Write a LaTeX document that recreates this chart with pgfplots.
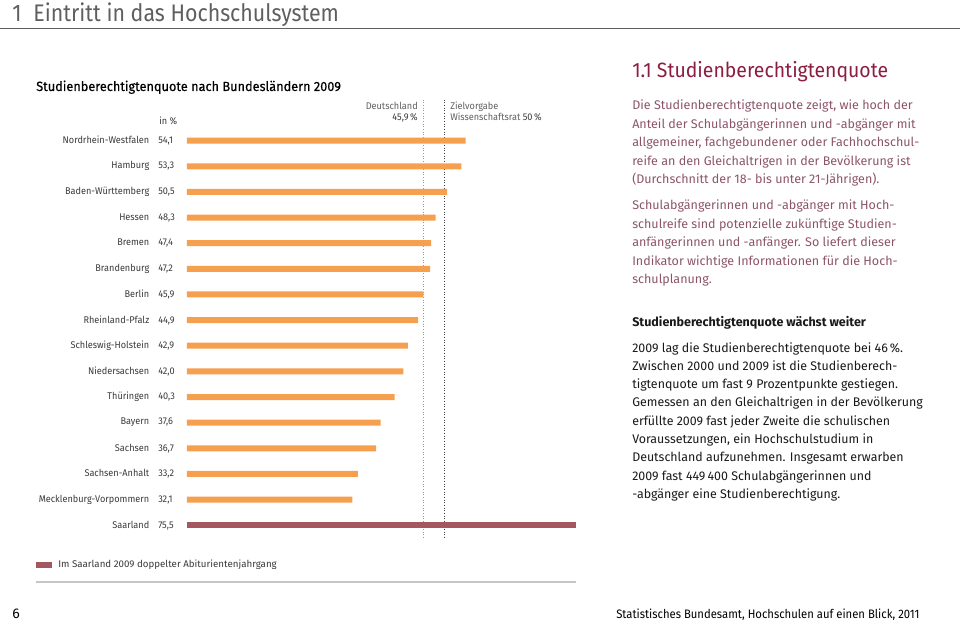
\documentclass[border=0pt]{standalone}
\usepackage{fontspec}
\setmainfont{Fira Sans}
\usepackage{pgfplots}
\pgfplotsset{compat=1.18}
\usepackage{pgfplotstable}
\definecolor{barorange}{HTML}{F6A04F}
\definecolor{barsaar}{HTML}{A5575F}
\definecolor{titlered}{HTML}{8C1D40}
\definecolor{mauve}{HTML}{8C546A}
\definecolor{hdrgray}{HTML}{5F5F5F}
\definecolor{labgray}{HTML}{3A3A3A}
\pgfplotstableread{
pos val
1 54.1
2 53.3
3 50.5
4 48.3
5 47.4
6 47.2
7 45.9
8 44.9
9 42.9
10 42.0
11 40.3
12 37.6
13 36.7
14 33.2
15 32.1
}\laender
\pgfplotstableread{
pos val
16 75.5
}\saar
\newcommand{\lab}{\fontsize{7.3}{9}\selectfont\addfontfeatures{FakeStretch=0.94}}
\newcommand{\body}{\fontsize{9.4}{13.8}\selectfont}
\begin{document}
\begin{tikzpicture}[x=0.75pt,y=-0.75pt]
\useasboundingbox (0,0) rectangle (960,620);
% header
\node[anchor=base west, font=\fontsize{18}{20}\selectfont\addfontfeatures{FakeStretch=0.89}, text=hdrgray, inner sep=0pt] at (12,22) {1\hspace{0.5em}Eintritt in das Hochschulsystem};
\draw[hdrgray, line width=1.1pt] (0,28.5) -- (960,28.5);
% chart title
\node[anchor=base west, font=\fontsize{10}{12}\selectfont\addfontfeatures{FakeStretch=0.955,FakeBold=0.4}, text=black, inner sep=0pt] at (36,91) {Studienberechtigtenquote nach Bundesländern 2009};
\node[anchor=base west, font=\lab, text=labgray, inner sep=0pt] at (159,125) {in \%};
% reference labels
\node[anchor=base east, font=\lab, text=hdrgray, inner sep=0pt] at (418,110) {Deutschland};
\node[anchor=base east, font=\lab, text=labgray, inner sep=0pt] at (418,121) {45,9\,\%};
\node[anchor=base west, font=\lab, text=hdrgray, inner sep=0pt] at (450,110) {Zielvorgabe};
\node[anchor=base west, font=\lab, text=hdrgray, inner sep=0pt] at (450,121) {Wissenschaftsrat \textcolor{labgray}{50\,\%}};
\begin{axis}[
  at={(140.25pt,-403.5pt)}, anchor=south west,
  scale only axis, width=309pt, height=328.8pt,
  xmin=0, xmax=80, ymin=-0.6, ymax=16.5, y dir=reverse,
  axis line style={draw=none}, xtick=\empty,
  ytick={1,...,16}, major tick length=0pt,
  yticklabels={
    {\llap{Nordrhein-Westfalen\hspace{6.75pt}}54,1},
    {\llap{Hamburg\hspace{6.75pt}}53,3},
    {\llap{Baden-Württemberg\hspace{6.75pt}}50,5},
    {\llap{Hessen\hspace{6.75pt}}48,3},
    {\llap{Bremen\hspace{6.75pt}}47,4},
    {\llap{Brandenburg\hspace{6.75pt}}47,2},
    {\llap{Berlin\hspace{6.75pt}}45,9},
    {\llap{Rheinland-Pfalz\hspace{6.75pt}}44,9},
    {\llap{Schleswig-Holstein\hspace{6.75pt}}42,9},
    {\llap{Niedersachsen\hspace{6.75pt}}42,0},
    {\llap{Thüringen\hspace{6.75pt}}40,3},
    {\llap{Bayern\hspace{6.75pt}}37,6},
    {\llap{Sachsen\hspace{6.75pt}}36,7},
    {\llap{Sachsen-Anhalt\hspace{6.75pt}}33,2},
    {\llap{Mecklenburg-Vorpommern\hspace{6.75pt}}32,1},
    {\llap{Saarland\hspace{6.75pt}}75,5}},
  yticklabel style={anchor=west, inner sep=0pt, xshift=-21.75pt, font=\lab, text=labgray},
  clip=false,
  legend style={at={(-0.3665,-0.0616)}, anchor=west, draw=none, fill=none, inner sep=0pt,
    font=\fontsize{7.3}{9}\selectfont, text=labgray,
    nodes={inner sep=0pt}, column sep=4.5pt},
]
\addplot[forget plot, color=gray!80, line width=1.1pt, dash pattern=on 0.8pt off 1.2pt] coordinates {(45.9,-0.6) (45.9,16.5)};
\addplot[forget plot, color=black!75, line width=1.1pt, dash pattern=on 0.8pt off 1.2pt] coordinates {(50,-0.6) (50,16.5)};
\addplot[forget plot, xbar, bar width=4.5pt, bar shift=0pt, draw=none, fill=barorange] table[x=val, y=pos] {\laender};
\addplot[xbar, bar width=4.5pt, bar shift=0pt, draw=none, fill=barsaar,
  legend image code/.code={\fill[barsaar] (0pt,-2.6pt) rectangle (12pt,2.6pt);}] table[x=val, y=pos] {\saar};
\addlegendentry{Im Saarland 2009 doppelter Abiturientenjahrgang}
\end{axis}
\draw[gray!45, line width=0.8pt] (36,582) -- (576,582);
% right column
\node[anchor=base west, font=\fontsize{15.5}{18}\selectfont\addfontfeatures{FakeStretch=0.94}, text=titlered, inner sep=0pt] at (632,78) {1.1 Studienberechtigtenquote};
\foreach \yy/\tt in {
 110/{Die Studienberechtigtenquote zeigt, wie hoch der},
 128.5/{Anteil der Schulabgängerinnen und -abgänger mit},
 147/{allgemeiner, fachgebundener oder Fachhochschul-},
 165.5/{reife an den Gleichaltrigen in der Bevölkerung ist},
 184/{(Durchschnitt der 18- bis unter 21-Jährigen).},
 210/{Schulabgängerinnen und -abgänger mit Hoch-},
 228.5/{schulreife sind potenzielle zukünftige Studien-},
 247/{anfängerinnen und -anfänger. So liefert dieser},
 265.5/{Indikator wichtige Informationen für die Hoch-},
 284/{schulplanung.}}
 {\node[anchor=base west, font=\body, text=mauve, inner sep=0pt] at (632,\yy) {\tt};}
\node[anchor=base west, font=\body\bfseries, text=black!90, inner sep=0pt] at (632,326) {Studienberechtigtenquote wächst weiter};
\foreach \yy/\tt in {
 352/{2009 lag die Studienberechtigtenquote bei 46\,\%.},
 370.3/{Zwischen 2000 und 2009 ist die Studienberech-},
 388.6/{tigtenquote um fast 9 Prozentpunkte gestiegen.},
 406.9/{Gemessen an den Gleichaltrigen in der Bevölkerung},
 425.2/{erfüllte 2009 fast jeder Zweite die schulischen},
 443.5/{Voraussetzungen, ein Hochschulstudium in},
 461.8/{Deutschland aufzunehmen. Insgesamt erwarben},
 480.1/{2009 fast 449\,400 Schulabgängerinnen und},
 498.4/{-abgänger eine Studienberechtigung.}}
 {\node[anchor=base west, font=\body\addfontfeatures{FakeStretch=0.99}, text=black!90, inner sep=0pt] at (632,\yy) {\tt};}
% footer
\node[anchor=base west, font=\fontsize{10.5}{12}\selectfont, inner sep=0pt] at (12,618) {6};
\node[anchor=base west, font=\fontsize{9.2}{11}\selectfont\addfontfeatures{FakeStretch=0.92}, inner sep=0pt] at (616,618) {Statistisches Bundesamt, Hochschulen auf einen Blick, 2011};
\end{tikzpicture}
\end{document}
